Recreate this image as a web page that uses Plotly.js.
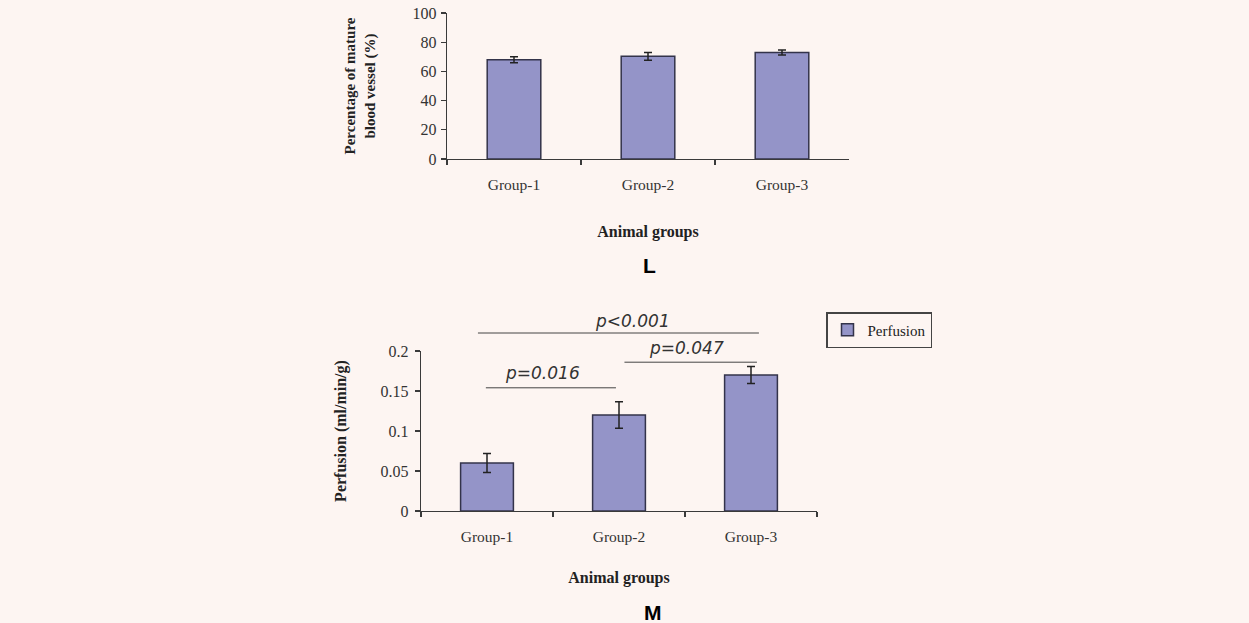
<!DOCTYPE html>
<html>
<head>
<meta charset="utf-8">
<script src="https://cdn.plot.ly/plotly-3.0.1.min.js"></script>
<style>html,body{margin:0;padding:0;background:#fdf5f2;}#chart{width:1249px;height:623px;}</style>
</head>
<body>
<div id="chart"></div>
<script>
// ---- data ----
const categories = ["Group-1", "Group-2", "Group-3"];
const matureValues = [68, 70.3, 73];
const matureErrors = [2.0, 2.7, 1.7];
const perfusionValues = [0.06, 0.12, 0.17];
const perfusionErrors = [0.012, 0.0166, 0.0105];
const topTicks = [0, 20, 40, 60, 80, 100];
const bottomTicks = [0, 0.05, 0.1, 0.15, 0.2];
const bottomTickText = ["0", "0.05", "0.1", "0.15", "0.2"];
// significance brackets (category index positions, heights in ml/min/g)
const bracketFrom = [-0.08, 1.03, -0.02];
const bracketTo = [2.06, 2.045, 0.977];
const bracketY = [0.2225, 0.186, 0.154];
const bracketLabels = ["p<0.001", "p=0.047", "p=0.016"];
const bracketLabelX = [1.106, 1.515, 0.417];
const bracketLabelY = [0.2375, 0.204, 0.1725];

const BG = "#fdf5f2";
const BAR = "#9494c8";
const EDGE = "#33334a";
const AX = "#3a3a3a";
const serif = "Liberation Serif, Times New Roman, serif";
const y2Range = [0, 0.2];

const barStyle = {color: BAR, line: {color: EDGE, width: 1.5}};
const errStyle = (arr) => ({type: "data", array: arr, visible: true, color: "#222", thickness: 1.5, width: 4});

const traces = [
  {type: "bar", x: categories, y: matureValues, xaxis: "x", yaxis: "y",
   marker: barStyle, width: 0.4, error_y: errStyle(matureErrors), showlegend: false, name: "Mature"},
  {type: "bar", x: categories, y: perfusionValues, xaxis: "x2", yaxis: "y2",
   marker: barStyle, width: 0.4, error_y: errStyle(perfusionErrors), showlegend: true, name: "Perfusion"}
];

const H = 623, W = 1249;
const xAxisCommon = {
  type: "category", range: [-0.5, 2.5], showline: true, linecolor: AX, linewidth: 1.2,
  ticks: "outside", tickson: "boundaries", ticklen: 5, tickcolor: AX, tickwidth: 1.2,
  showgrid: false, zeroline: false, fixedrange: true, automargin: false,
  tickfont: {family: serif, size: 15.5, color: "#333"}, ticklabelstandoff: 11
};
const yAxisCommon = {
  showline: true, linecolor: AX, linewidth: 1.2, ticks: "outside", ticklen: 5,
  tickcolor: AX, tickwidth: 1.2, showgrid: false, zeroline: false, automargin: false,
  tickfont: {family: serif, size: 16, color: "#333"}, ticklabelstandoff: 1
};

// y2 values -> y2 domain fraction (axis is linear over y2Range)
const toDom = v => (v - y2Range[0]) / (y2Range[1] - y2Range[0]);

const annotations = [];
for (let i = 0; i < bracketLabels.length; i++) {
  annotations.push({
    xref: "x2", yref: "y2 domain", x: bracketTo[i], y: toDom(bracketY[i]),
    axref: "x2", ayref: "y2 domain", ax: bracketFrom[i], ay: toDom(bracketY[i]),
    text: "", showarrow: true, arrowhead: 0, arrowwidth: 1, arrowcolor: "#444",
    standoff: 0, startstandoff: 0
  });
  annotations.push({
    xref: "x2", yref: "y2 domain", x: bracketLabelX[i], y: toDom(bracketLabelY[i]),
    xanchor: "center", yanchor: "middle",
    text: bracketLabels[i], showarrow: false,
    font: {family: "DejaVu Sans, sans-serif", size: 17, color: "#333", style: "italic"}
  });
}
annotations.push({xref: "paper", yref: "paper", x: 649 / W, y: 1 - 266 / H, xanchor: "center", yanchor: "middle",
  text: "<b>L</b>", showarrow: false, font: {family: "Liberation Sans, Arial, sans-serif", size: 21, color: "#000"}});
annotations.push({xref: "paper", yref: "paper", x: 653 / W, y: 1 - 612 / H, xanchor: "center", yanchor: "middle",
  text: "<b>M</b>", showarrow: false, font: {family: "Liberation Sans, Arial, sans-serif", size: 21, color: "#000"}});

const layout = {
  width: W, height: H,
  paper_bgcolor: BG, plot_bgcolor: BG,
  margin: {l: 0, r: 0, t: 0, b: 0},
  showlegend: true,
  xaxis: Object.assign({}, xAxisCommon, {
    domain: [447 / W, 849 / W], anchor: "y",
    title: {text: "<b>Animal groups</b>", font: {family: serif, size: 16, color: "#222"}, standoff: 34}
  }),
  yaxis: Object.assign({}, yAxisCommon, {
    domain: [1 - 159 / H, 1 - 13 / H], anchor: "x", range: [0, 100], tickvals: topTicks,
    title: {text: "<b>Percentage of mature<br>blood vessel (%)</b>", font: {family: serif, size: 15, color: "#222"}, standoff: 33}
  }),
  xaxis2: Object.assign({}, xAxisCommon, {
    domain: [421 / W, 817 / W], anchor: "y2",
    title: {text: "<b>Animal groups</b>", font: {family: serif, size: 16, color: "#222"}, standoff: 28}
  }),
  yaxis2: Object.assign({}, yAxisCommon, {
    domain: [1 - 511 / H, 1 - 351 / H], anchor: "x2", range: y2Range,
    tickvals: bottomTicks, ticktext: bottomTickText, ticklabelstandoff: 3,
    title: {text: "<b>Perfusion (ml/min/g)</b>", font: {family: serif, size: 16, color: "#222"}, standoff: 30}
  }),
  legend: {
    x: 826 / W, y: 1 - 312 / H, xanchor: "left", yanchor: "top",
    bgcolor: BG, bordercolor: "#444", borderwidth: 1.5,
    font: {family: serif, size: 15, color: "#222"}, itemwidth: 30
  },
  annotations: annotations
};

Plotly.newPlot("chart", traces, layout, {displayModeBar: false, staticPlot: true});
</script>
</body>
</html>
